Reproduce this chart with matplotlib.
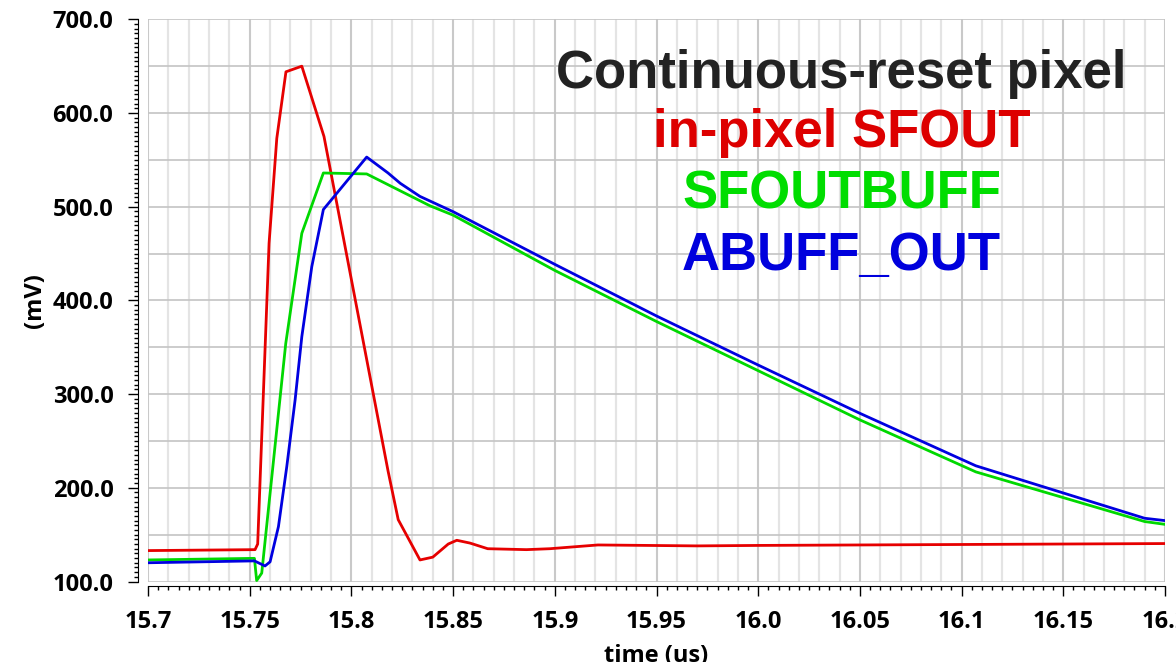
'''
Continuous-reset pixel: transient of SFOUT, SFOUTBUFF and ABUFF_OUT
'''
import numpy as np
import matplotlib
matplotlib.use('Agg')
import matplotlib.pyplot as plt
from matplotlib.ticker import MultipleLocator, FuncFormatter

# in-pixel SFOUT (red)
t_sfout = [15.70, 15.7526, 15.7539, 15.7595, 15.7633, 15.7678, 15.7756, 15.7865,
           15.818, 15.823, 15.8337, 15.840, 15.8476, 15.8518, 15.8583, 15.867,
           15.886, 15.8976, 15.9212, 15.97, 16.0, 16.1, 16.2]
v_sfout = [133, 134, 140, 461, 573, 644, 650, 575,
           218, 166, 123, 126, 140, 144, 141, 135,
           134, 135, 139, 138, 138.5, 139.5, 140.5]

# SFOUTBUFF (green)
t_buff = [15.70, 15.7523, 15.7534, 15.7559, 15.7677, 15.7756, 15.7862, 15.8075,
          15.8386, 15.85, 15.9, 15.95, 16.0, 16.05, 16.107, 16.19, 16.2]
v_buff = [123, 124.7, 101, 109, 354, 471.6, 536, 535,
          501, 491, 432, 377.5, 325, 272.5, 217, 164, 161]

# ABUFF_OUT (blue)
t_abuff = [15.70, 15.7523, 15.7575, 15.7600, 15.7641, 15.7682, 15.7723, 15.7756,
           15.7805, 15.7862, 15.8075, 15.818, 15.824, 15.8337, 15.85, 15.9,
           15.95, 16.0, 16.05, 16.107, 16.19, 16.2]
v_abuff = [120, 122, 116.6, 121, 158.5, 222.5, 293.7, 361.3,
           436, 497, 553, 536, 525, 511, 494.7, 438.5,
           383.4, 331, 279.5, 223.5, 167.5, 165]

labels = ['Continuous-reset pixel', 'in-pixel SFOUT', 'SFOUTBUFF', 'ABUFF_OUT']
label_colors = ['#222222', '#dd0000', '#00dd00', '#0000dd']

fig = plt.figure(figsize=(11.76, 6.62), dpi=100)
ax = fig.add_axes([0.1259, 0.1216, 0.8647, 0.8492])

ax.set_xlim(15.7, 16.2)
ax.set_ylim(100, 700)

# grid
ax.xaxis.set_major_locator(MultipleLocator(0.05))
ax.xaxis.set_minor_locator(MultipleLocator(0.005))
ax.yaxis.set_major_locator(MultipleLocator(100))
ax.yaxis.set_minor_locator(MultipleLocator(5))
for x in np.arange(15.7, 16.2001, 0.01):
    ax.axvline(x, color='#e4e4e4', lw=1.6, zorder=0)
for x in np.arange(15.7, 16.2001, 0.05):
    ax.axvline(x, color='#c4c4c4', lw=1.2, zorder=0)
for y in np.arange(100, 700.1, 50):
    ax.axhline(y, color='#c4c4c4', lw=1.2, zorder=0)

ax.plot(t_sfout, v_sfout, color='#e60000', lw=2.0)
ax.plot(t_buff, v_buff, color='#00d800', lw=2.0)
ax.plot(t_abuff, v_abuff, color='#0000e0', lw=2.0)

for s in ['top', 'right']:
    ax.spines[s].set_visible(False)
ax.spines['left'].set_position(('outward', 7))
ax.spines['bottom'].set_position(('outward', 3.5))

def xfmt(v, _):
    s = f'{v:.2f}'
    if s.endswith('0'):
        s = s[:-1]
    return s

ax.xaxis.set_major_formatter(FuncFormatter(xfmt))
ax.yaxis.set_major_formatter(FuncFormatter(lambda v, _: f'{v:.1f}'))
ax.tick_params(axis='both', which='major', length=7, width=1, direction='out')
ax.tick_params(axis='both', which='minor', length=3, width=1, direction='out')
ax.tick_params(axis='x', which='major', pad=10)
ax.tick_params(axis='y', which='major', pad=11)
for lab in ax.get_xticklabels() + ax.get_yticklabels():
    lab.set_fontfamily('Open Sans')
    lab.set_fontweight('bold')
    lab.set_fontsize(17)

ax.set_xlabel('time (us)', fontfamily='Open Sans', fontweight='bold', fontsize=17, labelpad=7)
ax.set_ylabel('(mV)', fontfamily='Open Sans', fontweight='bold', fontsize=17, labelpad=4)

ys = [0.878, 0.773, 0.664, 0.554]
for txt, c, y in zip(labels, label_colors, ys):
    ax.text(0.682, y, txt, transform=ax.transAxes, ha='center', va='baseline',
            fontsize=38, fontweight='bold', fontfamily='Liberation Sans', color=c)

fig.savefig('out.png', dpi=100)
